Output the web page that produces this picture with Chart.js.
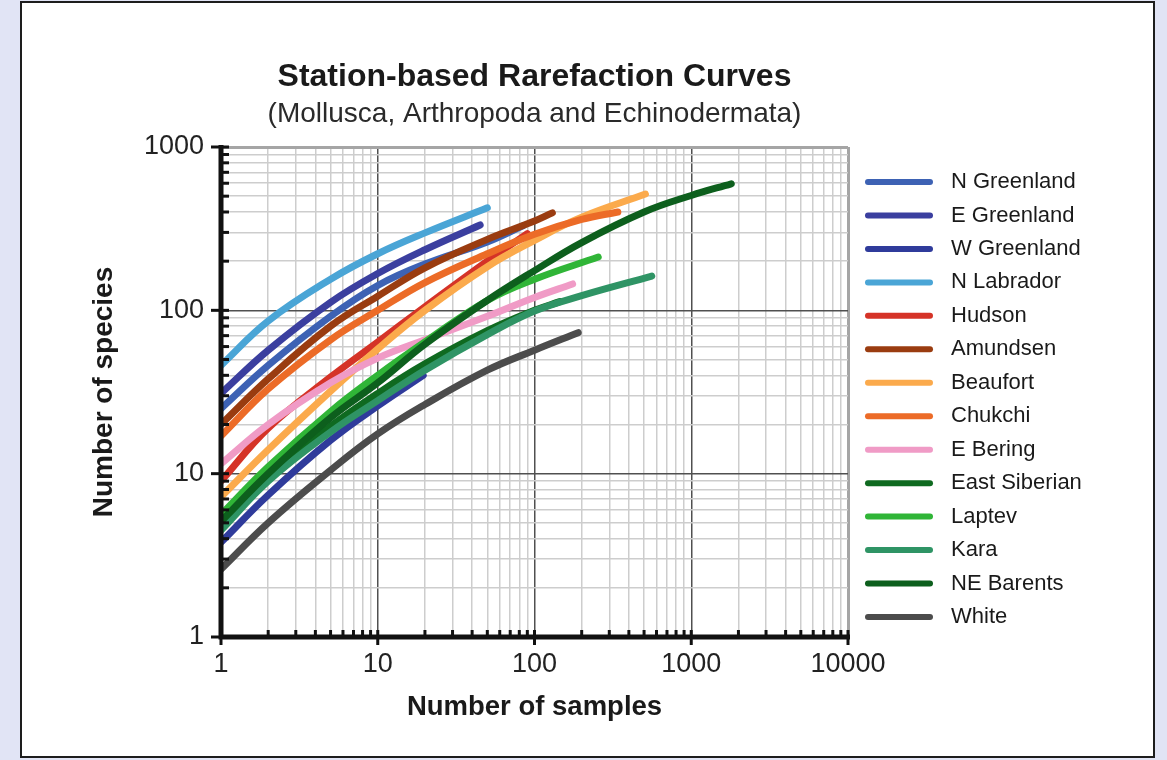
<!DOCTYPE html>
<html lang="en">
<head>
<meta charset="UTF-8">
<meta name="viewport" content="width=device-width">
<title>Station-based Rarefaction Curves</title>
<script src="https://cdn.jsdelivr.net/npm/chart.js@4.4.1/dist/chart.umd.min.js"></script>
<style>
    body {
        margin: 0;
        background: #e1e4f5;
    }

    .frame {
        position: absolute;
        left: 20px;
        top: 1px;
        width: 1135px;
        height: 757px;
        box-sizing: border-box;
        border: 2px solid #1d1d1d;
        background: #fff;
    }

    .chart-container {
        position: absolute;
        left: 0;
        top: 0;
        width: 1167px;
        height: 760px;
    }
</style>
</head>
<body>
<div class="frame"></div>
<div class="chart-container">
    <canvas id="rarefaction"></canvas>
</div>

<script>
    // [samples, species] along each station's rarefaction curve
    const nGreenland   = [[1, 25], [2, 46], [5, 92], [10, 142], [20, 192], [50, 262], [85, 330]];
    const eGreenland   = [[1, 31], [2, 57], [5, 112], [10, 168], [20, 235], [45, 333]];
    const wGreenland   = [[1, 3.8], [2, 7.4], [5, 16], [10, 26], [19.5, 40]];
    const nLabrador    = [[1, 46], [2, 86], [5, 155], [10, 222], [20, 298], [50, 424]];
    const hudson       = [[1, 9], [2, 19], [5, 39], [10, 64], [20, 105], [50, 200], [90, 295]];
    const amundsen     = [[1, 20], [2, 38], [5, 80], [10, 122], [20, 182], [50, 272], [100, 352], [130, 395]];
    const beaufort     = [[1, 7.2], [2, 14], [5, 32], [10, 58], [20, 100], [50, 185], [100, 268], [200, 372], [510, 515]];
    const chukchi      = [[1, 17], [2, 33], [5, 66], [10, 100], [20, 148], [50, 222], [100, 292], [200, 360], [340, 400]];
    const eBering      = [[1, 11.5], [2, 20], [5, 36], [10, 51], [20, 66], [50, 92], [100, 120], [175, 145]];
    const eastSiberian = [[1, 4.8], [2, 9.6], [5, 19.5], [10, 31], [20, 47], [50, 75], [100, 100], [145, 113]];
    const laptev       = [[1, 5.6], [2, 11], [5, 24], [10, 40], [20, 64], [50, 115], [100, 155], [255, 212]];
    const kara         = [[1, 4.5], [2, 9], [5, 18], [10, 28], [20, 43], [50, 71], [100, 99], [200, 123], [560, 162]];
    const neBarents    = [[1, 5.1], [2, 10], [5, 22], [10, 36], [20, 62], [50, 115], [100, 175], [200, 260], [500, 400], [1000, 505], [1800, 595]];
    const white        = [[1, 2.6], [2, 5], [5, 10.5], [10, 17.5], [20, 26.5], [50, 43], [100, 57], [190, 73]];

    const stations = ['N Greenland', 'E Greenland', 'W Greenland', 'N Labrador', 'Hudson', 'Amundsen', 'Beaufort',
        'Chukchi', 'E Bering', 'East Siberian', 'Laptev', 'Kara', 'NE Barents', 'White'];
    const curves = [nGreenland, eGreenland, wGreenland, nLabrador, hudson, amundsen, beaufort,
        chukchi, eBering, eastSiberian, laptev, kara, neBarents, white];

    const xTickLabels = ['1', '10', '100', '1000', '10000'];
    const yTickLabels = ['1', '10', '100', '1000'];

    const lineColors = ['#3d62b4', '#3b3f9f', '#2f3b9b', '#4aa5d6', '#d53327', '#9a3c10', '#fbaa4c',
        '#ec6b27', '#f09bc6', '#0f6a20', '#30b537', '#2f9465', '#0d5f1d', '#4c4c4c'];

    Chart.defaults.font.family = '"Liberation Sans", Arial, sans-serif';

    // 1..9 x every decade, so the grid gets all the minor lines
    function logTicks(labels) {
        const decades = labels.map(Number);
        const values = [];
        decades.slice(0, -1).forEach(d => {
            for (let k = 1; k < 10; k++) values.push(d * k);
        });
        values.push(decades[decades.length - 1]);
        return values.map(v => ({value: v}));
    }

    function gridColor(ctx, labels) {
        const v = String(ctx.tick.value);
        if (v === labels[labels.length - 1]) return '#a5a5a5';
        return labels.includes(v) ? '#505050' : '#cdcdcd';
    }

    function gridWidth(ctx, labels) {
        return String(ctx.tick.value) === labels[labels.length - 1] ? 3 : 1.5;
    }

    // thick black axes with small inward ticks, drawn over the curves
    const axisLines = {
        id: 'axisLines',
        afterDatasetsDraw(chart) {
            const {ctx, chartArea: a, scales: {x, y}} = chart;
            ctx.save();
            ctx.strokeStyle = '#111';
            ctx.lineWidth = 3;
            y.ticks.forEach(t => {
                const py = y.getPixelForValue(t.value);
                const major = yTickLabels.includes(String(t.value));
                ctx.beginPath();
                ctx.moveTo(a.left - (major ? 10 : 0), py);
                ctx.lineTo(a.left + 8, py);
                ctx.stroke();
            });
            x.ticks.forEach(t => {
                const px = x.getPixelForValue(t.value);
                const major = xTickLabels.includes(String(t.value));
                ctx.beginPath();
                ctx.moveTo(px, a.bottom + (major ? 8 : 0));
                ctx.lineTo(px, a.bottom - 7);
                ctx.stroke();
            });
            ctx.lineWidth = 5;
            ctx.beginPath();
            ctx.moveTo(a.left, a.top - 2);
            ctx.lineTo(a.left, a.bottom);
            ctx.lineTo(a.right + 2, a.bottom);
            ctx.stroke();
            ctx.restore();
        }
    };

    // station key to the right of the plot
    const stationKey = {
        id: 'stationKey',
        afterDraw(chart) {
            const {ctx, chartArea: a} = chart;
            const x0 = a.right + 17;
            const step = 33.46;
            ctx.save();
            ctx.font = '22px "Liberation Sans", Arial, sans-serif';
            ctx.textBaseline = 'middle';
            ctx.fillStyle = '#1a1a1a';
            ctx.lineCap = 'round';
            ctx.lineWidth = 6;
            chart.data.datasets.forEach((ds, i) => {
                const yy = a.top + 35 + i * step;
                ctx.strokeStyle = ds.borderColor;
                ctx.beginPath();
                ctx.moveTo(x0 + 3, yy);
                ctx.lineTo(x0 + 65, yy);
                ctx.stroke();
                ctx.fillText(ds.label, x0 + 86, yy);
            });
            ctx.restore();
        }
    };

    const data = {
        datasets: curves.map((pts, i) => ({
            label: stations[i],
            data: pts.map(([x, y]) => ({x, y})),
            borderColor: lineColors[i],
            backgroundColor: lineColors[i],
            borderWidth: 7,
            borderCapStyle: 'round',
            borderJoinStyle: 'round',
            pointRadius: 0,
            showLine: true,
            tension: 0.4,
            order: -i
        }))
    };

    const options = {
        responsive: true,
        maintainAspectRatio: false,
        animation: false,
        layout: {
            padding: {left: 0, right: 319, top: 0, bottom: 20}
        },
        scales: {
            x: {
                type: 'logarithmic',
                min: 1,
                max: 10000,
                afterBuildTicks: s => { s.ticks = logTicks(xTickLabels); },
                afterFit: s => { s.height = 103; },
                border: {display: false},
                grid: {
                    drawTicks: false,
                    color: c => gridColor(c, xTickLabels),
                    lineWidth: c => gridWidth(c, xTickLabels)
                },
                ticks: {
                    autoSkip: false,
                    maxRotation: 0,
                    minRotation: 0,
                    padding: 11.8,
                    color: '#222',
                    font: {size: 27},
                    callback: v => xTickLabels.includes(String(v)) ? String(v) : ''
                },
                title: {
                    display: true,
                    text: 'Number of samples',
                    color: '#1a1a1a',
                    font: {size: 27.5, weight: 'bold'},
                    padding: {top: 0, bottom: 16.5}
                }
            },
            y: {
                type: 'logarithmic',
                min: 1,
                max: 1000,
                afterBuildTicks: s => { s.ticks = logTicks(yTickLabels); },
                afterFit: s => { s.width = 221; },
                border: {display: false},
                grid: {
                    drawTicks: false,
                    color: c => gridColor(c, yTickLabels),
                    lineWidth: c => gridWidth(c, yTickLabels)
                },
                ticks: {
                    autoSkip: false,
                    padding: 17,
                    color: '#222',
                    font: {size: 27},
                    callback: v => yTickLabels.includes(String(v)) ? String(v) : ''
                },
                title: {
                    display: true,
                    text: 'Number of species',
                    color: '#1a1a1a',
                    font: {size: 28, weight: 'bold'},
                    padding: {top: 87.2, bottom: 0}
                }
            }
        },
        plugins: {
            legend: {display: false},
            tooltip: {enabled: false},
            title: {
                display: true,
                fullSize: false,
                text: 'Station-based Rarefaction Curves',
                color: '#1a1a1a',
                font: {size: 32, weight: 'bold'},
                padding: {top: 57.8, bottom: 0}
            },
            subtitle: {
                display: true,
                fullSize: false,
                text: '(Mollusca, Arthropoda and Echinodermata)',
                color: '#2a2a2a',
                font: {size: 28, weight: 'normal'},
                padding: {top: 1, bottom: 16.2}
            }
        }
    };

    new Chart(document.getElementById('rarefaction'), {
        type: 'scatter',
        data: data,
        options: options,
        plugins: [axisLines, stationKey]
    });
</script>
</body>
</html>
